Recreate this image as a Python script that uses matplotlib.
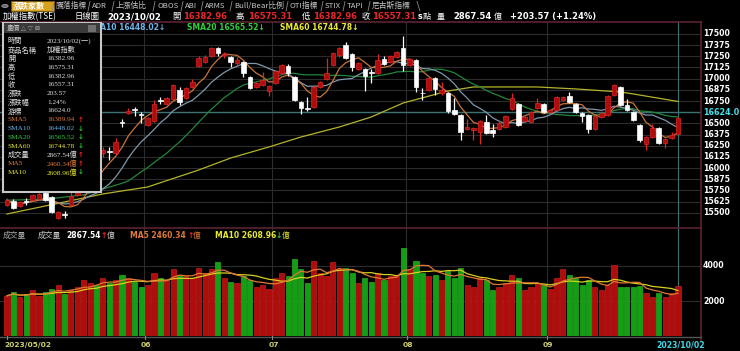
import numpy as np
import pandas as pd
import matplotlib
matplotlib.use("Agg")
import matplotlib.pyplot as plt
from matplotlib.lines import Line2D

W, H = 740, 351
CJK = ['Noto Sans CJK TC', 'DejaVu Sans']
NUM = ['DejaVu Sans', 'Noto Sans CJK TC']
SERIF = ['Liberation Serif', 'Noto Sans CJK TC']
plt.rcParams['font.family'] = CJK

# daily candles, TAIEX 2023/05/02 .. 2023/10/02
opens = [15587, 15631, 15575, 15635, 15642, 15654, 15721, 15676, 15441, 15490,
         15587, 15700, 15770, 15900, 16020, 16168, 16185, 16168, 16510, 16616,
         16655, 16600, 16482, 16527, 16765, 16717, 16773, 16873, 16784, 16907,
         17142, 17187, 17254, 17343, 17270, 17243, 17176, 17187, 17019, 16907,
         16929, 16862, 16952, 17064, 17142, 17019, 16739, 16670, 16684, 16907,
         16996, 17153, 17265, 17377, 17276, 17108, 17108, 17070, 17064, 17220,
         17187, 17243, 17343, 17153, 17209, 16845, 16873, 17008, 16840, 16840,
         16650, 16594, 16437, 16426, 16404, 16515, 16426, 16437, 16460, 16661,
         16717, 16527, 16515, 16672, 16717, 16627, 16650, 16761, 16806, 16717,
         16616, 16594, 16437, 16571, 16594, 16817, 16907, 16706, 16627, 16482,
         16269, 16347, 16448, 16280, 16336, 16382.96]
highs = [15670, 15650, 15635, 15665, 15715, 15725, 15735, 15690, 15520, 15519,
         15740, 15780, 15920, 16040, 16060, 16236, 16236, 16336, 16549, 16672,
         16684, 16627, 16575, 16761, 16795, 16800, 16940, 16907, 16910, 17000,
         17254, 17260, 17355, 17355, 17299, 17255, 17243, 17198, 17030, 16963,
         17075, 16930, 17100, 17165, 17164, 17030, 16750, 16795, 16918, 16975,
         17232, 17300, 17355, 17410, 17290, 17190, 17120, 17108, 17276, 17254,
         17265, 17310, 17478, 17232, 17220, 16896, 17020, 17020, 16963, 16851,
         16784, 16605, 16549, 16460, 16540, 16594, 16494, 16538, 16594, 16840,
         16730, 16582, 16640, 16784, 16730, 16661, 16806, 16806, 16851, 16730,
         16627, 16605, 16594, 16627, 16820, 16940, 16918, 16773, 16640, 16494,
         16360, 16494, 16460, 16336, 16404, 16575.31]
lows = [15570, 15540, 15565, 15587, 15630, 15640, 15630, 15497, 15430, 15441,
        15575, 15690, 15750, 15880, 15950, 16124, 16090, 16160, 16460, 16610,
        16582, 16504, 16470, 16515, 16717, 16710, 16765, 16706, 16775, 16900,
        17130, 17176, 17245, 17254, 17232, 17131, 17142, 17019, 16885, 16895,
        16918, 16806, 16940, 17050, 17030, 16750, 16605, 16638, 16672, 16896,
        16985, 17140, 17243, 17220, 17086, 17097, 16862, 16952, 17050, 17150,
        17176, 17232, 17086, 17140, 16851, 16761, 16860, 16817, 16817, 16616,
        16594, 16314, 16426, 16314, 16269, 16380, 16347, 16426, 16448, 16650,
        16470, 16515, 16504, 16661, 16616, 16616, 16638, 16750, 16728, 16616,
        16515, 16392, 16426, 16560, 16582, 16806, 16695, 16640, 16527, 16291,
        16202, 16336, 16269, 16225, 16325, 16382.96]
closes = [15642, 15553, 15620, 15625, 15698, 15710, 15642, 15508, 15508, 15480,
          15687, 15760, 15900, 16010, 15980, 16202, 16175, 16291, 16500, 16638,
          16645, 16590, 16560, 16717, 16755, 16784, 16929, 16739, 16896, 16963,
          17232, 17243, 17343, 17287, 17280, 17187, 17209, 17064, 16896, 16952,
          16985, 16918, 17086, 17153, 17064, 16761, 16672, 16661, 16907, 16963,
          17064, 17287, 17343, 17232, 17131, 17176, 17030, 17060, 17209, 17164,
          17254, 17299, 17153, 17220, 16907, 16835, 17008, 16885, 16873, 16638,
          16605, 16404, 16460, 16448, 16527, 16392, 16392, 16504, 16582, 16784,
          16482, 16571, 16627, 16728, 16627, 16650, 16795, 16795, 16739, 16627,
          16582, 16437, 16582, 16616, 16806, 16929, 16706, 16650, 16538, 16314,
          16347, 16448, 16280, 16325, 16370, 16557.31]
# 成交量 (億)
volumes = [2300, 2500, 2200, 2400, 2600, 2300, 2500, 2700, 2900, 2400,
           2600, 2800, 3200, 3000, 2900, 3300, 3000, 3200, 3500, 3300,
           3100, 2800, 2900, 3600, 3300, 3200, 3800, 3500, 3400, 3300,
           3900, 3600, 3800, 4200, 3300, 3100, 3000, 3400, 3200, 2800,
           2900, 2700, 3300, 3600, 3400, 4400, 3800, 3000, 4300, 3600,
           3400, 4200, 3800, 3900, 3600, 3000, 3300, 3100, 3600, 3200,
           3400, 3500, 5000, 3800, 4300, 3600, 3400, 3500, 3200, 3700,
           3300, 3900, 2900, 2800, 3300, 3200, 2600, 2800, 3000, 3500,
           3300, 2600, 2800, 3000, 2900, 2700, 3300, 3800, 3500, 3300,
           2900, 3200, 2800, 2630, 2900, 4050, 2800, 2800, 2800, 2850,
           2460, 2230, 2450, 2230, 2460, 2867.54]

# longer averages (bar index, value)
sma20_head_idx = [0, 6, 12, 18]
sma20_head = [15640, 15650, 15700, 15830]
sma60_idx = [0, 15, 22, 30, 35, 41, 46, 52, 57, 62, 69, 73, 78, 83, 89, 96, 98, 105]
sma60_val = [15486, 15710, 15788, 15978, 16112, 16236, 16347, 16459, 16571, 16728,
             16862, 16907, 16907, 16907, 16885, 16851, 16829, 16744.78]

price_ticks = list(range(15500, 17501, 125))
month_idx = [22, 42, 63, 85]
month_labels = ['06', '07', '08', '09']
cursor_price = 16624.0

n = len(closes)
x = np.arange(n)
df = pd.DataFrame({'o': opens, 'h': highs, 'l': lows, 'c': closes, 'v': volumes})
up = df['c'] >= df['o']
sma5 = df['c'].rolling(5, min_periods=1).mean()
sma10 = df['c'].rolling(10, min_periods=1).mean()
sma20 = df['c'].rolling(20).mean()
sma20_x = list(sma20_head_idx) + list(x[19:])
sma20_y = list(sma20_head) + list(sma20[19:])
vma5 = df['v'].rolling(5, min_periods=1).mean()
vma10 = df['v'].rolling(10, min_periods=1).mean()

fig = plt.figure(figsize=(W / 100, H / 100), dpi=100, facecolor='black')


def px_axes(left, top, right, bottom, **kw):
    return fig.add_axes([left / W, 1 - bottom / H, (right - left) / W, (bottom - top) / H], **kw)


def t(x0, y0, s, color='#e0e0e0', size=6.0, weight='normal', ha='left', z=3, family=CJK):
    fig.text(x0 / W, 1 - y0 / H, s, color=color, fontsize=size, fontweight=weight,
             ha=ha, va='center', zorder=z, family=family)


XL = (-7 / 6.39, 694 / 6.39)
RED = '#b00c0c'
RED_E = '#e02424'
GRID = '#2c2c2c'
MAROON = '#5c2233'
CURSOR = '#3c7272'

# ---------------- price panel
ax = px_axes(0, 22, 701, 228, facecolor='black')
ax.set_xlim(*XL)
ax.set_ylim(15329, 17634)
for p in price_ticks:
    ax.axhline(p, color=GRID, lw=0.8, zorder=0)
for m in month_idx:
    ax.axvline(m - 0.5, color=GRID, lw=0.8, zorder=0)
ax.axhline(cursor_price, color=CURSOR, lw=1.0, zorder=1)
ax.axvline(n - 1, color=CURSOR, lw=0.8, zorder=1)

ax.plot(sma60_idx, sma60_val, color='#b4b42a', lw=0.9, zorder=2)
ax.plot(sma20_x, sma20_y, color='#22863a', lw=0.9, zorder=2)
ax.plot(x, sma10, color='#7f97aa', lw=0.9, zorder=2)
ax.plot(x, sma5, color='#c8743a', lw=0.9, zorder=2)

bw = 0.72
for i in range(n):
    o, h, l, c = opens[i], highs[i], lows[i], closes[i]
    col = RED_E if up[i] else 'white'
    ax.vlines(i, l, h, color=col, lw=0.9, zorder=3)
    lo, hi = min(o, c), max(o, c)
    hgt = max(hi - lo, 8)
    ax.bar(i, hgt, bottom=lo, width=bw, color=RED if up[i] else 'white',
           edgecolor=col, lw=0.5, zorder=4)
ax.axis('off')

# ---------------- volume panel
av = px_axes(0, 228, 701, 336, facecolor='black')
av.set_xlim(*XL)
av.set_ylim(0, 6171)
for v in (2000, 4000):
    av.axhline(v, color=GRID, lw=0.8, zorder=0)
for m in month_idx:
    av.axvline(m - 0.5, color=GRID, lw=0.8, zorder=0)
av.axvline(n - 1, color=CURSOR, lw=0.8, zorder=1)
av.bar(x, volumes, width=0.8, color=[RED if u else '#12a012' for u in up],
       edgecolor=[RED_E if u else '#30c030' for u in up], lw=0.4, zorder=2)
av.plot(x, vma10, color='#d8d020', lw=0.9, zorder=3)
av.plot(x, vma5, color='#e07830', lw=0.9, zorder=3)
av.axis('off')

# frame lines
for y0 in (22, 228):
    fig.add_artist(Line2D([0, 701 / W], [1 - y0 / H] * 2, color=MAROON, lw=1.2))
fig.add_artist(Line2D([701 / W] * 2, [1 - 22 / H, 1 - 340 / H], color=MAROON, lw=1.2))
fig.add_artist(Line2D([0, 701 / W], [1 - 336.5 / H] * 2, color='#555555', lw=1.0))

# ---------------- axis labels
ypix = lambda p: 34 + (17500 - p) * 178.7 / 2000
for p in price_ticks:
    if abs(p - cursor_price) < 60:
        continue
    t(703, ypix(p), str(p), color='white', size=5.6, weight='bold', family=NUM)
t(703, ypix(cursor_price), '%.1f' % cursor_price, color='#40e0e8', size=5.8,
  weight='bold', family=NUM)
t(703, 266, '4000', color='white', size=5.6, weight='bold', family=NUM)
t(703, 301, '2000', color='white', size=5.6, weight='bold', family=NUM)

xpix = lambda i: 7 + 6.39 * i
for xx in [7] + [xpix(m) - 3 for m in month_idx]:
    fig.add_artist(Line2D([xx / W] * 2, [1 - 336 / H, 1 - 339 / H], color='#888888', lw=0.8))
t(4, 345, '2023/05/02', color='#cfcf70', size=5.4, weight='bold', family=NUM)
for m, lab in zip(month_idx, month_labels):
    t(xpix(m) - 2, 345, lab, color='#cfcf70', size=5.4, weight='bold', family=NUM, ha='center')
t(705, 345, '2023/10/02', color='#40d8e8', size=5.6, weight='bold', family=NUM, ha='right')

# ---------------- header: tabs
tabs = [('騰落指標', 56), ('ADR', 92), ('上漲估比', 116), ('OBOS', 157), ('ABI', 185),
        ('ARMS', 205), ('Bull/Bear比例', 234), ('OTI指標', 290), ('STIX', 325),
        ('TAPI', 347), ('尼古斯指標', 372)]
fig.patches.append(plt.Rectangle((11 / W, 1 - 11 / H), 43 / W, 10 / H, transform=fig.transFigure,
                                 facecolor='#d6a21e', edgecolor='#7a5a10', lw=0.6))
fig.patches.append(plt.Circle((5 / W, 1 - 6 / H), 3.2 / W, transform=fig.transFigure,
                              facecolor='#6a6a6a', edgecolor='#b0b0b0', lw=0.5))
t(13, 6, '漲跌家數', color='white', size=5.8, weight='bold')
for name, xx in tabs:
    fig.add_artist(Line2D([(xx - 4) / W, (xx - 2) / W], [1 - 11 / H, 1 - 1.5 / H], color='#8a8a8a', lw=0.6))
    t(xx, 6, name, color='#c8c8c8', size=5.6)
fig.add_artist(Line2D([417 / W, 420 / W], [1 - 1.5 / H, 1 - 11 / H], color='#8a8a8a', lw=0.6))

# ---------------- header: quote line
t(3, 16.5, '加權指數(TSE)', color='white', size=6.0)
t(75, 16.5, '日線圖', color='white', size=6.0)
t(107, 16.5, '2023/10/02', color='white', size=6.2, weight='bold', family=NUM)
quote = [('開', 172), ('16382.96', 183), ('高', 236), ('16575.31', 248),
         ('低', 302), ('16382.96', 313), ('收', 362), ('16557.31', 372)]
for s, xx in quote:
    if s[0].isdigit():
        t(xx, 16.5, s, color='#e8262a', size=6.0, weight='bold', family=NUM)
    else:
        t(xx, 16.5, s, color='white', size=6.0)
t(418, 16.5, 's', color='white', size=5.8, weight='bold', family=NUM)
t(423, 16.5, '點', color='white', size=5.8)
t(437, 16.5, '量', color='white', size=5.8)
t(453, 16.5, '2867.54', color='white', size=6.0, weight='bold', family=NUM)
t(494, 16.5, '億', color='white', size=5.8)
t(510, 16.5, '+203.57 (+1.24%)', color='white', size=6.0, weight='bold', family=NUM)

# ---------------- SMA legend (SMA5 and the start of SMA10 sit under the info box)
t(87, 28, 'SMA10 16448.02↓', color='#6cb4e8', size=5.5, weight='bold', z=1, family=NUM)
t(187, 28, 'SMA20 16565.52↓', color='#2ed03a', size=5.5, weight='bold', z=1, family=NUM)
t(280, 28, 'SMA60 16744.78↓', color='#e8e830', size=5.5, weight='bold', z=1, family=NUM)

# ---------------- volume legend
t(3, 236, '成交量', color='#b0b0b0', size=5.6)
t(38, 236, '成交量', color='#d0d0d0', size=5.6)
t(66, 236, '2867.54', color='white', size=5.5, weight='bold', family=NUM)
t(101, 236, '↑', color='#ff2020', size=5.5, weight='bold', family=NUM)
t(107, 236, '億', color='#d0d0d0', size=5.6)
t(130, 236, 'MA5 2460.34', color='#e07a36', size=5.5, weight='bold', family=NUM)
t(188, 236, '↑', color='#ff2020', size=5.5, weight='bold', family=NUM)
t(193, 236, '億', color='#e07a36', size=5.6)
t(215, 236, 'MA10 2608.96', color='#e8e830', size=5.5, weight='bold', family=NUM)
t(276, 236, '↓', color='#20d020', size=5.5, weight='bold', family=NUM)
t(282, 236, '億', color='#e8e830', size=5.6)

# ---------------- info box
box = px_axes(3, 23, 101, 192, facecolor='black', zorder=2)
box.set_xticks([])
box.set_yticks([])
for s in box.spines.values():
    s.set_color('#c8c8c8')
    s.set_linewidth(1.5)
fig.patches.append(plt.Rectangle((4 / W, 1 - 33 / H), 96 / W, 10 / H, transform=fig.transFigure,
                                 facecolor='#3a3a3a', edgecolor='none', zorder=2.5))
t(7, 28, '畫價', color='#c0c0c0', size=4.8)
t(21, 28, '△ ▽ ⊠', color='#a0a0a0', size=4.6, family=NUM)
fig.patches.append(plt.Rectangle((88 / W, 1 - 32 / H), 8 / W, 7 / H, transform=fig.transFigure,
                                 facecolor='#707070', edgecolor='none', zorder=2.6))

rows = [('時間', '2023/10/02(一)', '#e0e0e0', ''),
        ('商品名稱', '加權指數', '#e0e0e0', ''),
        ('開', '16382.96', '#e0e0e0', ''),
        ('高', '16575.31', '#e0e0e0', ''),
        ('低', '16382.96', '#e0e0e0', ''),
        ('收', '16557.31', '#e0e0e0', ''),
        ('漲跌', '203.57', '#e0e0e0', ''),
        ('漲跌幅', '1.24%', '#e0e0e0', ''),
        ('游標', '16624.0', '#e0e0e0', ''),
        ('SMA5', '16389.94', '#e07a36', '↑'),
        ('SMA10', '16448.02', '#6cb4e8', '↓'),
        ('SMA20', '16565.52', '#2ed03a', '↓'),
        ('SMA60', '16744.78', '#e8e830', '↓'),
        ('成交量', '2867.54億', '#e0e0e0', '↑'),
        ('MA5', '2460.34億', '#e07a36', '↑'),
        ('MA10', '2608.96億', '#e8e830', '↓')]
for k, (lab, val, col, arr) in enumerate(rows):
    yy = 41 + 8.75 * k
    t(8, yy, lab, color=col, size=5.2, family=SERIF)
    t(47, yy, val, color=col, size=5.2, family=SERIF)
    if arr:
        t(78, yy, arr, color='#ff2020' if arr == '↑' else '#20d020', size=5.0, weight='bold', family=NUM)

fig.savefig('out.png', dpi=100, facecolor='black')
